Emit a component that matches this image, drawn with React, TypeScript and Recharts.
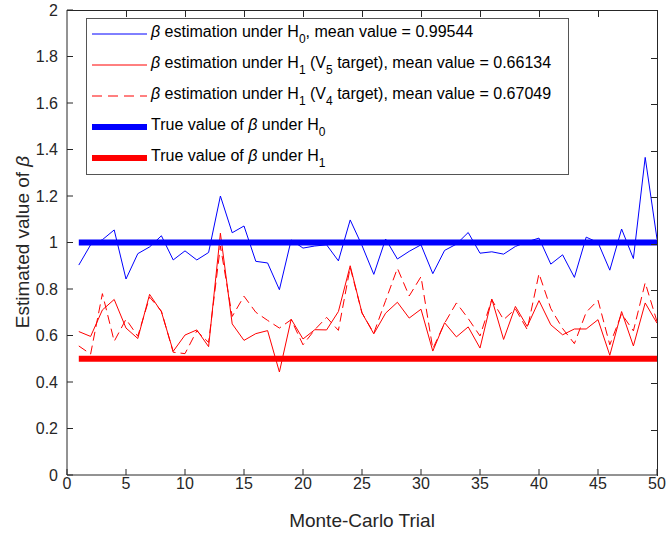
import { Legend, Line, LineChart, XAxis, YAxis } from "recharts";

// Monte-Carlo trial numbers (x categories)
const trials = [
  1, 2, 3, 4, 5, 6, 7, 8, 9, 10, 11, 12, 13, 14, 15, 16, 17, 18, 19, 20, 21, 22, 23, 24, 25,
  26, 27, 28, 29, 30, 31, 32, 33, 34, 35, 36, 37, 38, 39, 40, 41, 42, 43, 44, 45, 46, 47, 48,
  49, 50,
];

// beta estimation under H0
const betaH0 = [
  0.903, 0.99, 1.012, 1.054, 0.843, 0.952, 0.981, 1.029, 0.925, 0.964, 0.925, 0.957, 1.2,
  1.042, 1.071, 0.919, 0.912, 0.797, 1.011, 0.976, 0.985, 0.99, 0.921, 1.097, 0.987, 0.863,
  1.015, 0.929, 0.962, 0.99, 0.866, 0.966, 0.993, 1.043, 0.954, 0.96, 0.95, 0.983, 1.003,
  1.019, 0.907, 0.947, 0.85, 1.023, 1.0, 0.881, 1.058, 0.931, 1.366, 1.015,
];

// beta estimation under H1, V5 target
const betaH1V5 = [
  0.617, 0.596, 0.71, 0.755, 0.632, 0.587, 0.777, 0.702, 0.532, 0.602, 0.624, 0.552, 1.04,
  0.65, 0.579, 0.608, 0.621, 0.443, 0.67, 0.585, 0.625, 0.624, 0.703, 0.9, 0.697, 0.607,
  0.696, 0.743, 0.675, 0.713, 0.533, 0.655, 0.594, 0.637, 0.546, 0.757, 0.583, 0.725, 0.639,
  0.75, 0.646, 0.603, 0.628, 0.628, 0.668, 0.515, 0.703, 0.555, 0.74, 0.653,
];

// beta estimation under H1, V4 target
const betaH1V4 = [
  0.555, 0.52, 0.78, 0.575, 0.67, 0.597, 0.765, 0.705, 0.528, 0.522, 0.62, 0.57, 0.985,
  0.682, 0.769, 0.7, 0.665, 0.632, 0.668, 0.56, 0.625, 0.678, 0.622, 0.893, 0.697, 0.61,
  0.75, 0.889, 0.77, 0.853, 0.543, 0.653, 0.74, 0.673, 0.598, 0.754, 0.668, 0.714, 0.626,
  0.866, 0.716, 0.63, 0.565, 0.7, 0.752, 0.56, 0.693, 0.62, 0.827, 0.66,
];

const TRUE_H0 = 1;
const TRUE_H1 = 0.5;

const xTicks = [0, 5, 10, 15, 20, 25, 30, 35, 40, 45, 50];
const yTicks = [0, 0.2, 0.4, 0.6, 0.8, 1, 1.2, 1.4, 1.6, 1.8, 2];
const X_MAX = 50;
const Y_MAX = 2;

const data = trials.map((t, i) => ({
  trial: t,
  h0: betaH0[i],
  v5: betaH1V5[i],
  v4: betaH1V4[i],
  trueH0: TRUE_H0,
  trueH1: TRUE_H1,
}));

const ink = "#262626";
const font = "'Liberation Sans', Arial, Helvetica, sans-serif";
const blue = "#0000ff";
const red = "#ff0000";

const Beta = () => <span style={{ fontStyle: "italic" }}>β</span>;
const Sub = ({ c }: { c: string }) => (
  <sub style={{ fontSize: 12, verticalAlign: -6 }}>{c}</sub>
);

const legendRows = [
  {
    color: blue,
    width: 1,
    dash: undefined as string | undefined,
    text: (
      <>
        <Beta /> estimation under H<Sub c="0" />, mean value = 0.99544
      </>
    ),
  },
  {
    color: red,
    width: 1,
    dash: undefined,
    text: (
      <>
        <Beta /> estimation under H<Sub c="1" /> (V<Sub c="5" /> target), mean value = 0.66134
      </>
    ),
  },
  {
    color: red,
    width: 1,
    dash: "10 6",
    text: (
      <>
        <Beta /> estimation under H<Sub c="1" /> (V<Sub c="4" /> target), mean value = 0.67049
      </>
    ),
  },
  {
    color: blue,
    width: 6,
    dash: undefined,
    text: (
      <>
        True value of <Beta /> under H<Sub c="0" />
      </>
    ),
  },
  {
    color: red,
    width: 6,
    dash: undefined,
    text: (
      <>
        True value of <Beta /> under H<Sub c="1" />
      </>
    ),
  },
];

function LegendBox() {
  return (
    <div
      style={{
        position: "relative",
        width: 483,
        height: 157,
        boxSizing: "border-box",
        border: "1px solid #555",
        background: "#fff",
        fontFamily: font,
        fontSize: 16,
        color: "#000",
      }}
    >
      {legendRows.map((r, i) => (
        <div
          key={i}
          style={{
            position: "absolute",
            left: 0,
            top: 4 + i * 31,
            height: 22,
            display: "flex",
            alignItems: "center",
            whiteSpace: "nowrap",
          }}
        >
          <svg width={64} height={22} style={{ display: "block" }}>
            <line
              x1={5}
              x2={60}
              y1={11}
              y2={11}
              stroke={r.color}
              strokeWidth={r.width}
              strokeDasharray={r.dash}
            />
          </svg>
          <span>{r.text}</span>
        </div>
      ))}
    </div>
  );
}

// top and right edges of the axes box, with inward ticks
function BoxFrame() {
  return (
    <div
      style={{
        position: "absolute",
        left: 67,
        top: 10,
        width: 591,
        height: 466,
        boxSizing: "border-box",
        borderTop: `1px solid ${ink}`,
        borderRight: `1px solid ${ink}`,
        pointerEvents: "none",
      }}
    >
      {xTicks.slice(1, -1).map((t) => (
        <div
          key={"x" + t}
          style={{
            position: "absolute",
            left: `${(t / X_MAX) * 100}%`,
            top: 0,
            width: 1,
            height: 6,
            background: ink,
          }}
        />
      ))}
      {yTicks.slice(1, -1).map((t) => (
        <div
          key={"y" + t}
          style={{
            position: "absolute",
            right: 0,
            top: `${(1 - t / Y_MAX) * 100}%`,
            width: 6,
            height: 1,
            background: ink,
          }}
        />
      ))}
    </div>
  );
}

export default function App() {
  return (
    <div style={{ position: "absolute", left: 0, top: 0, width: 667, height: 533, background: "#fff" }}>
      <LineChart
        width={667}
        height={533}
        data={data}
        margin={{ top: 10, right: 10, left: 0, bottom: 0 }}
      >
        <XAxis
          dataKey="trial"
          type="number"
          domain={[0, X_MAX]}
          ticks={xTicks}
          height={58}
          stroke={ink}
          tickSize={-6}
          tickMargin={9}
          tick={{ fill: ink, fontSize: 16, fontFamily: font }}
          label={{
            content: ({ viewBox }: any) => (
              <text
                x={viewBox.x + viewBox.width / 2}
                y={527}
                textAnchor="middle"
                fill={ink}
                fontSize={19}
                fontFamily={font}
              >
                Monte-Carlo Trial
              </text>
            ),
          }}
        />
        <YAxis
          type="number"
          domain={[0, Y_MAX]}
          ticks={yTicks}
          width={67}
          stroke={ink}
          tickSize={-6}
          tickMargin={15}
          tick={{ fill: ink, fontSize: 16, fontFamily: font }}
          label={{
            content: () => (
              <text
                x={29}
                y={242}
                transform="rotate(-90, 29, 242)"
                textAnchor="middle"
                fill={ink}
                fontSize={19}
                fontFamily={font}
              >
                Estimated value of <tspan fontStyle="italic">β</tspan>
              </text>
            ),
          }}
        />
        <Line
          dataKey="h0"
          stroke={blue}
          strokeWidth={1}
          dot={false}
          isAnimationActive={false}
        />
        <Line
          dataKey="v5"
          stroke={red}
          strokeWidth={1}
          dot={false}
          isAnimationActive={false}
        />
        <Line
          dataKey="v4"
          stroke={red}
          strokeWidth={1}
          strokeDasharray="9 5"
          dot={false}
          isAnimationActive={false}
        />
        <Line
          dataKey="trueH0"
          stroke={blue}
          strokeWidth={6}
          dot={false}
          isAnimationActive={false}
        />
        <Line
          dataKey="trueH1"
          stroke={red}
          strokeWidth={6}
          dot={false}
          isAnimationActive={false}
        />
        <Legend
          layout="horizontal"
          verticalAlign="middle"
          align="center"
          width={483}
          content={() => <LegendBox />}
          wrapperStyle={{ left: 86, top: 18, width: 483, height: 157 }}
        />
      </LineChart>
      <BoxFrame />
    </div>
  );
}
